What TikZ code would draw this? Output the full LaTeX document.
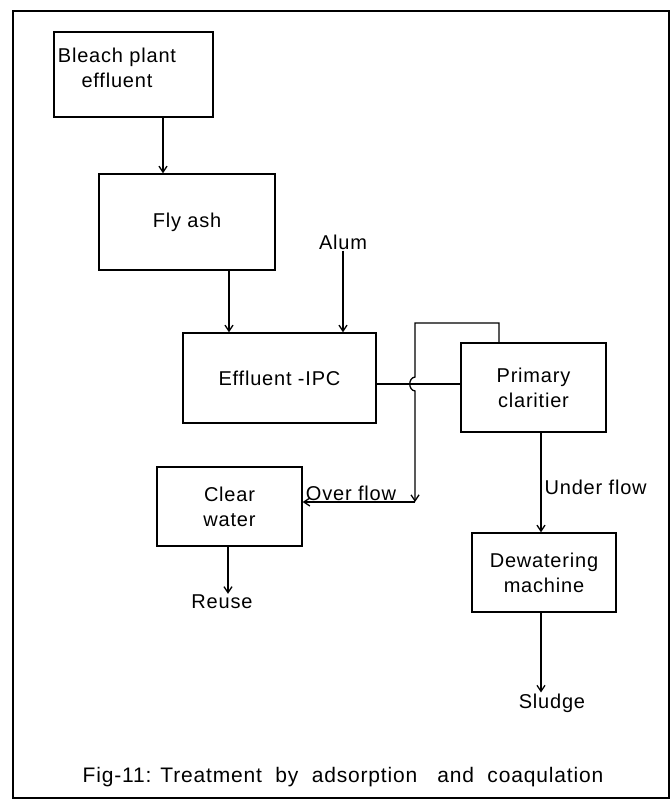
\documentclass[tikz,border=0pt]{standalone}
\usepackage{fontspec}
\setmainfont{Liberation Sans}
\usetikzlibrary{arrows.meta}
\begin{document}
\begin{tikzpicture}[x=1pt,y=-1pt,
  txt/.style={font=\fontsize{20}{25}\selectfont\addfontfeature{LetterSpace=4}},
  box/.style={draw, line width=1.4pt, inner sep=0pt, align=center, txt},
  lbl/.style={inner sep=1pt, align=center, txt},
  arr/.style={line width=1.3pt, -{Straight Barb[length=6pt,width=8pt]}},
  pipe/.style={line width=1.3pt}]
\fill[white] (0,0) rectangle (671,806);
\useasboundingbox (0,0) rectangle (671,806);
\draw[line width=2.2pt] (13,11) rectangle (669,798);

% boxes
\node[box, minimum width=159, minimum height=85] (bleach) at (133.5,74.5) {};
\node[lbl] (bleachtxt) at (117,68) {Bleach plant\\effluent};
\node[box, minimum width=176, minimum height=96] (fly) at (187,222) {Fly ash};
\node[box, minimum width=193, minimum height=90] (ipc) at (279.5,378) {Effluent -IPC};
\node[box, minimum width=145, minimum height=89] (clar) at (533.5,387.5) {Primary\\claritier};
\node[box, minimum width=145, minimum height=79] (clear) at (229.5,506.5) {Clear\\water};
\node[box, minimum width=144, minimum height=79] (dew) at (544,572.5) {Dewatering\\machine};

% free labels
\node[lbl] (alum) at (343,242) {Alum};
\node[lbl] (reuse) at (222,602) {Reuse};
\node[lbl] (sludge) at (552,703) {Sludge};
\node[lbl, font=\fontsize{21}{25}\selectfont\addfontfeature{LetterSpace=4}] (cap) at (343,777) {Fig-11: Treatment\ \ by\ \ adsorption\ \ \ and\ \ coaqulation};

% connectors
\draw[arr] ([xshift=29.5]bleach.south) -- ([xshift=29.5]bleach.south |- fly.north);
\draw[arr] ([xshift=42]fly.south) -- ([xshift=42]fly.south |- ipc.north);
\draw[arr] (alum.south) -- (alum.south |- ipc.north);
\draw[pipe] ([yshift=-6]ipc.east) -- ([yshift=-6]ipc.east -| clar.west);

\coordinate (ovtop) at (415,323);
\coordinate (ovc) at (415,502);
\draw[arr] ([xshift=-34.5]clar.north) |- (ovtop) -- (415,377)
  .. controls (408,378) and (408,390) .. (415,391) -- (ovc);
\draw[arr] (ovc) -- node[lbl, above, pos=0.57] {Over flow} (ovc -| clear.east);

\draw[arr] ([xshift=7.5]clar.south) -- node[lbl, anchor=west, pos=0.55, xshift=2] {Under flow} ([xshift=7.5]clar.south |- dew.north);
\draw[arr] ([xshift=-3]dew.south) -- ([xshift=-3]dew.south |- sludge.north);
\draw[arr] ([xshift=-1.5]clear.south) -- ([xshift=-1.5]clear.south |- reuse.north);
\end{tikzpicture}
\end{document}
